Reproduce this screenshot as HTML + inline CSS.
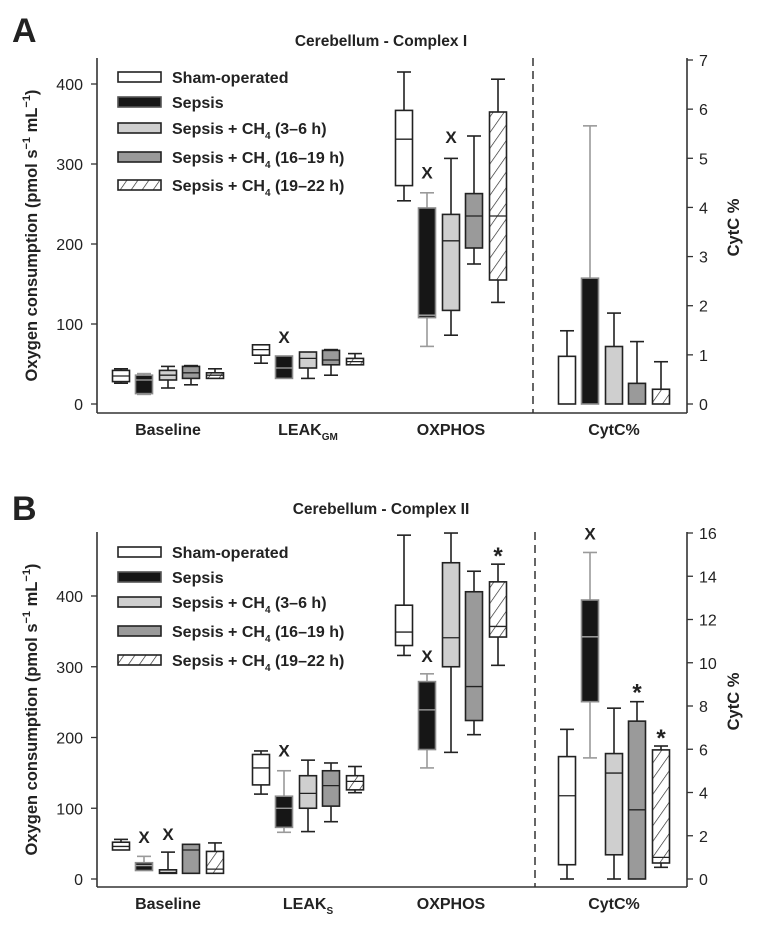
<!DOCTYPE html>
<html><head><meta charset="utf-8">
<style>
html,body{margin:0;padding:0;background:#fff;}
svg{display:block;font-family:"Liberation Sans",sans-serif;}
text{fill:#222;}
</style></head>
<body>
<svg id="chart" width="760" height="926" viewBox="0 0 760 926" xmlns="http://www.w3.org/2000/svg">
<defs>
<pattern id="hatch" patternUnits="userSpaceOnUse" width="9" height="9" patternTransform="rotate(35)">
<rect width="9" height="9" fill="#fff"/>
<line x1="0" y1="0" x2="0" y2="9" stroke="#222" stroke-width="1.3"/>
</pattern>
</defs>
</svg>
<script>
// ---------- data ----------
const groups = ["Sham-operated","Sepsis","Sepsis + CH4 (3–6 h)","Sepsis + CH4 (16–19 h)","Sepsis + CH4 (19–22 h)"];
const categoriesA = ["Baseline","LEAK_GM","OXPHOS","CytC%"];
const categoriesB = ["Baseline","LEAK_S","OXPHOS","CytC%"];
const leftTicksA = [0,100,200,300,400];
const rightTicksA = [0,1,2,3,4,5,6,7];
const leftTicksB = [0,100,200,300,400];
const rightTicksB = [0,2,4,6,8,10,12,14,16];
// each box: [lo, q1, median, q3, hi]
const baselineA = [[26,28,35,42,44],[12,13,30,36,38],[20,30,36,42,47],[24,32,39,47,48],[32,32,36,39,44]];
const leakA = [[51,61,68,74,74],[32,32,45,60,60],[32,45,57,65,65],[36,49,55,67,68],[49,49,53,57,63]];
const oxphosA = [[254,273,331,367,415],[72,108,111,245,264],[86,117,204,237,307],[175,195,235,263,335],[127,155,235,365,406]];
const cytcA = [[0,0,0,0.97,1.49],[0,0,0,2.56,5.66],[0,0,0,1.17,1.85],[0,0,0,0.42,1.27],[0,0,0,0.3,0.86]];
const baselineB = [[41,41,46,52,56],[12,12,19,23,32],[8,8,9,13,38],[8,8,41,49,49],[8,8,14,39,51]];
const leakB = [[120,133,157,176,181],[66,73,100,117,153],[67,100,121,146,168],[81,103,132,153,164],[122,126,138,146,159]];
const oxphosB = [[316,330,349,387,486],[157,183,239,279,290],[179,300,341,447,489],[204,224,272,406,435],[302,342,357,420,445]];
const cytcB = [[0,0.66,3.85,5.66,6.92],[5.6,8.2,11.2,12.9,15.1],[0,1.12,4.9,5.8,7.9],[0,0,3.2,7.3,8.2],[0.54,0.74,1.0,5.97,6.15]];
// significance marks: [categoryIndex, groupIndex, value, symbol]
const marksA = [[1,1,76,"X"],[2,1,282,"X"],[2,2,326,"X"]];
const marksB = [[0,1,51,"X"],[0,2,55,"X"],[1,1,173,"X"],[2,1,307,"X"],[2,4,462,"*"],[3,1,15.7,"X"],[3,3,8.8,"*"],[3,4,6.7,"*"]];

const NS="http://www.w3.org/2000/svg";
const svg=document.getElementById('chart');
function mk(tag,attrs,parent){const e=document.createElementNS(NS,tag);for(const k in attrs)e.setAttribute(k,attrs[k]);(parent||svg).appendChild(e);return e;}

const fills=["#fff","#161616","#cfcfcf","#9a9a9a","url(#hatch)"];
const strokes=["#222","#8a8a8a","#222","#222","#222"];
const groupOffsets=[-47,-24,0,23,47];

function panel(cfg){
  const g=mk('g',{});
  
  
  const L=97,R=687,T=cfg.top,B=cfg.bottom;
  const yL=v=>cfg.y0+(cfg.y400-cfg.y0)*v/400;
  const yR=v=>B-(B-cfg.rTop)*0+ (cfg.r0 - (cfg.r0-cfg.rTop)*v/cfg.rMax) - B;
  const catX=[168,308,451,614];
  // panel letter & title
  let t=mk('text',{x:12,y:cfg.letterY,'font-size':34,'font-weight':'bold'},g);t.textContent=cfg.letter;
  
  t=mk('text',{x:381,y:cfg.titleY,'font-size':15.5,'font-weight':'bold','text-anchor':'middle'},g);t.textContent=cfg.title;
  
  // axes
  let a=mk('line',{x1:L,y1:T,x2:L,y2:B,stroke:'#333','stroke-width':1.6},g);
  a=mk('line',{x1:R,y1:T,x2:R,y2:B,stroke:'#333','stroke-width':1.6},g);
  a=mk('line',{x1:L,y1:B,x2:R,y2:B,stroke:'#333','stroke-width':1.6},g);
  a=mk('line',{x1:cfg.dashX,y1:T,x2:cfg.dashX,y2:B,stroke:'#333','stroke-width':1.5,'stroke-dasharray':'8,5'},g);
  cfg.leftTicks.forEach(v=>{const y=yL(v);mk('line',{x1:L-6,y1:y,x2:L,y2:y,stroke:'#333','stroke-width':1.3},g);
    const tx=mk('text',{x:L-14,y:y+6,'font-size':16,'text-anchor':'end'},g);tx.textContent=v;
    });
  cfg.rightTicks.forEach(v=>{const y=yR(v);mk('line',{x1:R,y1:y,x2:R+6,y2:y,stroke:'#333','stroke-width':1.3},g);
    const tx=mk('text',{x:R+12,y:y+6,'font-size':16},g);tx.textContent=v;
    });
  // axis titles
  const mid=(T+B)/2;
  t=mk('text',{x:0,y:0,'font-size':16.5,'font-weight':'bold','text-anchor':'middle',transform:`translate(37,${mid}) rotate(-90)`},g);
  t.innerHTML='Oxygen consumption (pmol s<tspan dy="-7" font-size="11">−1</tspan><tspan dy="7"> mL</tspan><tspan dy="-7" font-size="11">−1</tspan><tspan dy="7">)</tspan>';
  
  t=mk('text',{x:0,y:0,'font-size':16.5,'font-weight':'bold','text-anchor':'middle',transform:`translate(739,${mid-8}) rotate(-90)`},g);t.textContent='CytC %';
  
  // category labels
  cfg.categories.forEach((c,i)=>{const tx=mk('text',{x:catX[i],y:B+22,'font-size':16,'font-weight':'bold','text-anchor':'middle'},g);
    if(c.indexOf('_')>0){const p=c.split('_');tx.innerHTML=p[0]+'<tspan dy="5" font-size="10">'+p[1]+'</tspan>';}else tx.textContent=c;
    });
  // boxes
  cfg.series.forEach((ser,ci)=>{
    const sc=ci===3?yR:yL;
    ser.forEach((b,gi)=>{
      const cx=catX[ci]+groupOffsets[gi],w=17,cw=14;
      const bg=mk('g',{},g);
      
      
      const wc=gi===1?'#9a9a9a':'#222';
      const [lo,q1,md,q3,hi]=b.map(sc);
      if(hi<q3-0.5){mk('line',{x1:cx,y1:q3,x2:cx,y2:hi,stroke:wc,'stroke-width':1.6},bg);mk('line',{x1:cx-cw/2,y1:hi,x2:cx+cw/2,y2:hi,stroke:wc,'stroke-width':1.6},bg);}
      if(lo>q1+0.5){mk('line',{x1:cx,y1:q1,x2:cx,y2:lo,stroke:wc,'stroke-width':1.6},bg);mk('line',{x1:cx-cw/2,y1:lo,x2:cx+cw/2,y2:lo,stroke:wc,'stroke-width':1.6},bg);}
      mk('rect',{x:cx-w/2,y:q3,width:w,height:Math.max(q1-q3,1),fill:fills[gi],stroke:strokes[gi],'stroke-width':1.6},bg);
      if(md<q1-0.5) mk('line',{x1:cx-w/2,y1:md,x2:cx+w/2,y2:md,stroke:gi===1?'#aaa':'#222','stroke-width':1.3},bg);
    });
  });
  cfg.marks.forEach(m=>{const sc=m[0]===3?yR:yL;const cx=catX[m[0]]+groupOffsets[m[1]];
    const tx=mk('text',{x:cx,y:sc(m[2])+(m[3]==='*'?12:0),'font-size':m[3]==='*'?24:17,'font-weight':'bold','text-anchor':'middle'},g);tx.textContent=m[3];
    });
  // legend
  const lg=mk('g',{},g);
  groups.forEach((name,i)=>{const y=cfg.legendY[i];
    const e=mk('g',{},lg);
    mk('rect',{x:118,y:y-5,width:43,height:10,fill:fills[i],stroke:i===1?'#555':'#222','stroke-width':1.6},e);
    const tx=mk('text',{x:172,y:y+6,'font-size':16,'font-weight':'bold'},e);
    if(name.indexOf('CH4')>=0){const p=name.split('CH4');tx.innerHTML=p[0]+'CH<tspan dy="5" font-size="10">4</tspan><tspan dy="-5">'+p[1]+'</tspan>';}else tx.textContent=name;
  });
}
panel({name:'panel-a',letter:'A',letterY:42,title:'Cerebellum - Complex I',titleY:46,top:58,bottom:413,y0:404,y400:84,r0:404,rTop:60,rMax:7,dashX:533,
  leftTicks:leftTicksA,rightTicks:rightTicksA,categories:categoriesA,series:[baselineA,leakA,oxphosA,cytcA],marks:marksA,legendY:[77,102,128,157,185]});
panel({name:'panel-b',letter:'B',letterY:520,title:'Cerebellum - Complex II',titleY:514,top:532,bottom:887,y0:879,y400:596,r0:879,rTop:533,rMax:16,dashX:535,
  leftTicks:leftTicksB,rightTicks:rightTicksB,categories:categoriesB,series:[baselineB,leakB,oxphosB,cytcB],marks:marksB,legendY:[552,577,602,631,660]});
</script>
</body></html>
